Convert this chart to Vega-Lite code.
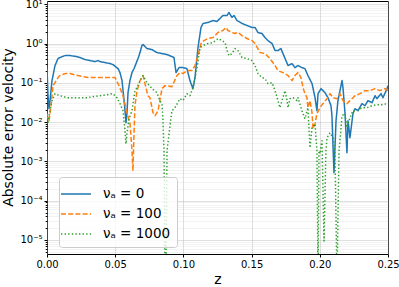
{
  "$schema": "https://vega.github.io/schema/vega-lite/v6.json",
  "width": 341,
  "height": 253,
  "autosize": {"type": "none"},
  "padding": {"left": 47, "top": 1, "right": 11, "bottom": 33},
  "config": {
    "font": "DejaVu Sans",
    "view": {"stroke": "#000000", "strokeWidth": 1},
    "axis": {"labelColor": "#000000", "titleColor": "#000000", "tickColor": "#000000", "domain": false, "labelFont": "DejaVu Sans", "titleFont": "DejaVu Sans", "titleFontWeight": "normal"}
  },
  "data": {"values": [
    {"s":"0","z":0,"v":0.23},{"s":"0","z":0.00073,"v":0.0471},{"s":"0","z":0.00147,"v":0.022},{"s":"0","z":0.0022,"v":0.0352},{"s":"0","z":0.00367,"v":0.114},{"s":"0","z":0.00587,"v":0.275},{"s":"0","z":0.00806,"v":0.414},{"s":"0","z":0.00953,"v":0.44},{"s":"0","z":0.0132,"v":0.494},{"s":"0","z":0.0169,"v":0.494},{"s":"0","z":0.0205,"v":0.474},{"s":"0","z":0.0242,"v":0.44},{"s":"0","z":0.0279,"v":0.391},{"s":"0","z":0.0315,"v":0.368},{"s":"0","z":0.0352,"v":0.347},{"s":"0","z":0.0374,"v":0.368},{"s":"0","z":0.0389,"v":0.347},{"s":"0","z":0.0425,"v":0.328},{"s":"0","z":0.0462,"v":0.309},{"s":"0","z":0.0484,"v":0.291},{"s":"0","z":0.0521,"v":0.23},{"s":"0","z":0.0535,"v":0.182},{"s":"0","z":0.055,"v":0.114},{"s":"0","z":0.0565,"v":0.0352},{"s":"0","z":0.0572,"v":0.0195},{"s":"0","z":0.0579,"v":0.00966},{"s":"0","z":0.0586,"v":0.0164},{"s":"0","z":0.0594,"v":0.0562},{"s":"0","z":0.0608,"v":0.114},{"s":"0","z":0.0623,"v":0.182},{"s":"0","z":0.0638,"v":0.23},{"s":"0","z":0.0667,"v":0.414},{"s":"0","z":0.0682,"v":0.589},{"s":"0","z":0.0696,"v":0.889},{"s":"0","z":0.0704,"v":0.943},{"s":"0","z":0.0733,"v":0.745},{"s":"0","z":0.077,"v":0.703},{"s":"0","z":0.0806,"v":0.589},{"s":"0","z":0.0843,"v":0.556},{"s":"0","z":0.088,"v":0.524},{"s":"0","z":0.0916,"v":0.466},{"s":"0","z":0.0931,"v":0.44},{"s":"0","z":0.0946,"v":0.182},{"s":"0","z":0.0968,"v":0.244},{"s":"0","z":0.0997,"v":0.244},{"s":"0","z":0.1026,"v":0.23},{"s":"0","z":0.1048,"v":0.114},{"s":"0","z":0.107,"v":0.0711},{"s":"0","z":0.1085,"v":0.136},{"s":"0","z":0.1107,"v":0.791},{"s":"0","z":0.1129,"v":2.56},{"s":"0","z":0.1144,"v":3.24},{"s":"0","z":0.118,"v":3.43},{"s":"0","z":0.1217,"v":3.86},{"s":"0","z":0.1246,"v":3.64},{"s":"0","z":0.1268,"v":4.34},{"s":"0","z":0.129,"v":5.18},{"s":"0","z":0.132,"v":5.18},{"s":"0","z":0.1334,"v":6.18},{"s":"0","z":0.1356,"v":4.61},{"s":"0","z":0.1371,"v":5.18},{"s":"0","z":0.1393,"v":3.86},{"s":"0","z":0.143,"v":3.24},{"s":"0","z":0.1466,"v":2.88},{"s":"0","z":0.1503,"v":2.56},{"s":"0","z":0.1525,"v":2.56},{"s":"0","z":0.1547,"v":1.91},{"s":"0","z":0.1576,"v":1.8},{"s":"0","z":0.1598,"v":1.42},{"s":"0","z":0.162,"v":1.19},{"s":"0","z":0.165,"v":1.0},{"s":"0","z":0.1672,"v":0.663},{"s":"0","z":0.1693,"v":0.663},{"s":"0","z":0.1715,"v":0.745},{"s":"0","z":0.173,"v":0.556},{"s":"0","z":0.1752,"v":0.368},{"s":"0","z":0.1767,"v":0.275},{"s":"0","z":0.1796,"v":0.309},{"s":"0","z":0.1818,"v":0.244},{"s":"0","z":0.184,"v":0.275},{"s":"0","z":0.1869,"v":0.244},{"s":"0","z":0.1891,"v":0.23},{"s":"0","z":0.1913,"v":0.153},{"s":"0","z":0.1943,"v":0.0955},{"s":"0","z":0.1965,"v":0.0419},{"s":"0","z":0.1979,"v":0.0195},{"s":"0","z":0.1987,"v":0.053},{"s":"0","z":0.2009,"v":0.0711},{"s":"0","z":0.2038,"v":0.0562},{"s":"0","z":0.206,"v":0.0419},{"s":"0","z":0.2082,"v":0.0262},{"s":"0","z":0.2089,"v":0.0146},{"s":"0","z":0.2104,"v":0.000512},{"s":"0","z":0.2119,"v":0.0109},{"s":"0","z":0.2133,"v":0.0352},{"s":"0","z":0.2163,"v":0.114},{"s":"0","z":0.217,"v":0.0755},{"s":"0","z":0.2185,"v":0.0164},{"s":"0","z":0.2199,"v":0.00166},{"s":"0","z":0.2207,"v":0.0109},{"s":"0","z":0.2221,"v":0.004},{"s":"0","z":0.2243,"v":0.0164},{"s":"0","z":0.2258,"v":0.022},{"s":"0","z":0.228,"v":0.0195},{"s":"0","z":0.2309,"v":0.0295},{"s":"0","z":0.2331,"v":0.0262},{"s":"0","z":0.2353,"v":0.0352},{"s":"0","z":0.2383,"v":0.0313},{"s":"0","z":0.2405,"v":0.0471},{"s":"0","z":0.2419,"v":0.0395},{"s":"0","z":0.2449,"v":0.053},{"s":"0","z":0.2463,"v":0.0419},{"s":"0","z":0.2493,"v":0.0711},{"s":"0","z":0.25,"v":0.0849},
    {"s":"100","z":0,"v":0.0164},{"s":"100","z":0.00073,"v":0.0122},{"s":"100","z":0.00147,"v":0.0109},{"s":"100","z":0.00293,"v":0.0262},{"s":"100","z":0.0044,"v":0.0849},{"s":"100","z":0.00587,"v":0.101},{"s":"100","z":0.00806,"v":0.136},{"s":"100","z":0.00953,"v":0.153},{"s":"100","z":0.0132,"v":0.172},{"s":"100","z":0.0169,"v":0.172},{"s":"100","z":0.0227,"v":0.153},{"s":"100","z":0.0301,"v":0.136},{"s":"100","z":0.0374,"v":0.136},{"s":"100","z":0.0447,"v":0.136},{"s":"100","z":0.0499,"v":0.136},{"s":"100","z":0.0528,"v":0.0849},{"s":"100","z":0.0557,"v":0.0471},{"s":"100","z":0.0586,"v":0.0174},{"s":"100","z":0.0608,"v":0.00966},{"s":"100","z":0.0623,"v":0.00188},{"s":"100","z":0.063,"v":0.000576},{"s":"100","z":0.0638,"v":0.00506},{"s":"100","z":0.0645,"v":0.0262},{"s":"100","z":0.066,"v":0.0632},{"s":"100","z":0.0682,"v":0.114},{"s":"100","z":0.0704,"v":0.153},{"s":"100","z":0.074,"v":0.0471},{"s":"100","z":0.0755,"v":0.0419},{"s":"100","z":0.0777,"v":0.0174},{"s":"100","z":0.0792,"v":0.0146},{"s":"100","z":0.0814,"v":0.0195},{"s":"100","z":0.0843,"v":0.0711},{"s":"100","z":0.0865,"v":0.0849},{"s":"100","z":0.0916,"v":0.08},{"s":"100","z":0.0953,"v":0.153},{"s":"100","z":0.0975,"v":0.182},{"s":"100","z":0.0997,"v":0.172},{"s":"100","z":0.1026,"v":0.205},{"s":"100","z":0.1063,"v":0.205},{"s":"100","z":0.1085,"v":0.275},{"s":"100","z":0.1107,"v":0.494},{"s":"100","z":0.1129,"v":1.0},{"s":"100","z":0.1151,"v":1.19},{"s":"100","z":0.118,"v":1.34},{"s":"100","z":0.1217,"v":1.42},{"s":"100","z":0.1254,"v":1.91},{"s":"100","z":0.129,"v":2.15},{"s":"100","z":0.1312,"v":2.56},{"s":"100","z":0.1327,"v":2.15},{"s":"100","z":0.1356,"v":1.91},{"s":"100","z":0.1378,"v":1.8},{"s":"100","z":0.14,"v":1.91},{"s":"100","z":0.143,"v":1.6},{"s":"100","z":0.1466,"v":1.34},{"s":"100","z":0.1503,"v":1.19},{"s":"100","z":0.1525,"v":1.0},{"s":"100","z":0.1562,"v":0.589},{"s":"100","z":0.1598,"v":0.556},{"s":"100","z":0.1635,"v":0.414},{"s":"100","z":0.1672,"v":0.275},{"s":"100","z":0.1693,"v":0.205},{"s":"100","z":0.173,"v":0.182},{"s":"100","z":0.1767,"v":0.153},{"s":"100","z":0.1796,"v":0.114},{"s":"100","z":0.1818,"v":0.153},{"s":"100","z":0.184,"v":0.182},{"s":"100","z":0.1862,"v":0.136},{"s":"100","z":0.1877,"v":0.0755},{"s":"100","z":0.1891,"v":0.053},{"s":"100","z":0.1906,"v":0.0419},{"s":"100","z":0.1913,"v":0.0233},{"s":"100","z":0.1928,"v":0.0352},{"s":"100","z":0.1943,"v":0.0174},{"s":"100","z":0.195,"v":0.00679},{"s":"100","z":0.1965,"v":0.0091},{"s":"100","z":0.1979,"v":0.0164},{"s":"100","z":0.2001,"v":0.0233},{"s":"100","z":0.2023,"v":0.0295},{"s":"100","z":0.2053,"v":0.0395},{"s":"100","z":0.2075,"v":0.053},{"s":"100","z":0.2097,"v":0.0419},{"s":"100","z":0.2126,"v":0.0395},{"s":"100","z":0.2148,"v":0.053},{"s":"100","z":0.217,"v":0.0352},{"s":"100","z":0.2199,"v":0.0295},{"s":"100","z":0.2221,"v":0.0352},{"s":"100","z":0.2258,"v":0.0471},{"s":"100","z":0.2295,"v":0.053},{"s":"100","z":0.2331,"v":0.0632},{"s":"100","z":0.2368,"v":0.0632},{"s":"100","z":0.2405,"v":0.0711},{"s":"100","z":0.2441,"v":0.0632},{"s":"100","z":0.2478,"v":0.0711},{"s":"100","z":0.25,"v":0.0632},
    {"s":"1000","z":0,"v":0.0146},{"s":"1000","z":0.00073,"v":0.00966},{"s":"1000","z":0.0022,"v":0.0195},{"s":"1000","z":0.00367,"v":0.0352},{"s":"1000","z":0.00587,"v":0.053},{"s":"1000","z":0.00953,"v":0.0471},{"s":"1000","z":0.0147,"v":0.0419},{"s":"1000","z":0.022,"v":0.0419},{"s":"1000","z":0.0293,"v":0.0419},{"s":"1000","z":0.0389,"v":0.0471},{"s":"1000","z":0.044,"v":0.05},{"s":"1000","z":0.0484,"v":0.053},{"s":"1000","z":0.0513,"v":0.0419},{"s":"1000","z":0.0535,"v":0.0295},{"s":"1000","z":0.0557,"v":0.0195},{"s":"1000","z":0.0572,"v":0.00604},{"s":"1000","z":0.0579,"v":0.00281},{"s":"1000","z":0.0586,"v":0.00506},{"s":"1000","z":0.0601,"v":0.0122},{"s":"1000","z":0.0623,"v":0.0195},{"s":"1000","z":0.0645,"v":0.0632},{"s":"1000","z":0.066,"v":0.0755},{"s":"1000","z":0.0682,"v":0.114},{"s":"1000","z":0.0704,"v":0.153},{"s":"1000","z":0.0733,"v":0.101},{"s":"1000","z":0.077,"v":0.0711},{"s":"1000","z":0.0806,"v":0.0562},{"s":"1000","z":0.0828,"v":0.0352},{"s":"1000","z":0.0843,"v":0.0295},{"s":"1000","z":0.085,"v":0.0109},{"s":"1000","z":0.0858,"v":0.00186},{"s":"1000","z":0.0865,"v":0.000001},{"s":"1000","z":0.0872,"v":0.000001},{"s":"1000","z":0.088,"v":0.00186},{"s":"1000","z":0.0902,"v":0.0081},{"s":"1000","z":0.0916,"v":0.0195},{"s":"1000","z":0.0938,"v":0.0233},{"s":"1000","z":0.0975,"v":0.0395},{"s":"1000","z":0.0997,"v":0.0352},{"s":"1000","z":0.1026,"v":0.053},{"s":"1000","z":0.1048,"v":0.0471},{"s":"1000","z":0.107,"v":0.0755},{"s":"1000","z":0.11,"v":0.244},{"s":"1000","z":0.1122,"v":0.791},{"s":"1000","z":0.1144,"v":0.889},{"s":"1000","z":0.118,"v":1.0},{"s":"1000","z":0.1217,"v":1.06},{"s":"1000","z":0.1254,"v":1.34},{"s":"1000","z":0.1283,"v":1.19},{"s":"1000","z":0.1305,"v":1.06},{"s":"1000","z":0.132,"v":0.663},{"s":"1000","z":0.1334,"v":0.494},{"s":"1000","z":0.1356,"v":0.556},{"s":"1000","z":0.1378,"v":0.745},{"s":"1000","z":0.14,"v":0.663},{"s":"1000","z":0.143,"v":0.44},{"s":"1000","z":0.1466,"v":0.414},{"s":"1000","z":0.1503,"v":0.368},{"s":"1000","z":0.1525,"v":0.275},{"s":"1000","z":0.1547,"v":0.172},{"s":"1000","z":0.1576,"v":0.136},{"s":"1000","z":0.1598,"v":0.128},{"s":"1000","z":0.162,"v":0.0955},{"s":"1000","z":0.165,"v":0.101},{"s":"1000","z":0.1672,"v":0.0632},{"s":"1000","z":0.1693,"v":0.0352},{"s":"1000","z":0.1708,"v":0.0233},{"s":"1000","z":0.1723,"v":0.0352},{"s":"1000","z":0.1745,"v":0.0632},{"s":"1000","z":0.176,"v":0.0352},{"s":"1000","z":0.1767,"v":0.0233},{"s":"1000","z":0.1781,"v":0.0395},{"s":"1000","z":0.1804,"v":0.0419},{"s":"1000","z":0.1833,"v":0.0352},{"s":"1000","z":0.184,"v":0.0419},{"s":"1000","z":0.1869,"v":0.0195},{"s":"1000","z":0.1891,"v":0.0122},{"s":"1000","z":0.1913,"v":0.0233},{"s":"1000","z":0.1928,"v":0.00222},{"s":"1000","z":0.1943,"v":0.0072},{"s":"1000","z":0.1965,"v":0.0091},{"s":"1000","z":0.1979,"v":0.00186},{"s":"1000","z":0.1987,"v":0.000001},{"s":"1000","z":0.1994,"v":0.00186},{"s":"1000","z":0.2001,"v":0.00156},{"s":"1000","z":0.2016,"v":0.00336},{"s":"1000","z":0.2031,"v":0.00000942},{"s":"1000","z":0.2045,"v":0.00186},{"s":"1000","z":0.2053,"v":0.004},{"s":"1000","z":0.2075,"v":0.00537},{"s":"1000","z":0.2097,"v":0.004},{"s":"1000","z":0.2111,"v":0.00186},{"s":"1000","z":0.2126,"v":0.000001},{"s":"1000","z":0.2141,"v":0.00186},{"s":"1000","z":0.2148,"v":0.00336},{"s":"1000","z":0.2163,"v":0.0146},{"s":"1000","z":0.2185,"v":0.0164},{"s":"1000","z":0.2199,"v":0.0072},{"s":"1000","z":0.2221,"v":0.013},{"s":"1000","z":0.2243,"v":0.0195},{"s":"1000","z":0.2273,"v":0.0195},{"s":"1000","z":0.2309,"v":0.0233},{"s":"1000","z":0.2346,"v":0.0233},{"s":"1000","z":0.2383,"v":0.0262},{"s":"1000","z":0.2419,"v":0.0278},{"s":"1000","z":0.2456,"v":0.0278},{"s":"1000","z":0.2493,"v":0.0295},{"s":"1000","z":0.25,"v":0.0295}
  ]},
  "mark": {"type": "line", "clip": true, "strokeWidth": 1.5, "strokeJoin": "round"},
  "encoding": {
    "x": {
      "field": "z", "type": "quantitative",
      "scale": {"domain": [0, 0.25], "nice": false, "zero": false},
      "axis": {
        "title": "z", "values": [0, 0.05, 0.1, 0.15, 0.2, 0.25], "format": ".2f",
        "labelFlush": false, "labelFontSize": 10, "labelPadding": 2, "tickSize": 3,
        "titleFontSize": 14, "titlePadding": 3,
        "grid": true, "gridColor": "#b0b0b0", "gridOpacity": 0.5, "gridWidth": 0.8
      }
    },
    "y": {
      "field": "v", "type": "quantitative",
      "scale": {"type": "log", "domain": [0.0000044, 12.1], "nice": false},
      "axis": {
        "title": "Absolute error velocity",
        "titleFontSize": 14, "titleX": -39, "titleY": 126, "titleAlign": "center", "titleBaseline": "middle", "titleAngle": -90,
        "values": [0.000005,0.000006,0.000007,0.000008,0.000009,0.00001,0.00002,0.00003,0.00004,0.00005,0.00006,0.00007,0.00008,0.00009,0.0001,0.0002,0.0003,0.0004,0.0005,0.0006,0.0007,0.0008,0.0009,0.001,0.002,0.003,0.004,0.005,0.006,0.007,0.008,0.009,0.01,0.02,0.03,0.04,0.05,0.06,0.07,0.08,0.09,0.1,0.2,0.3,0.4,0.5,0.6,0.7,0.8,0.9,1,2,3,4,5,6,7,8,9,10],
        "labelExpr": "abs(log(datum.value)/LN10 - round(log(datum.value)/LN10)) < 0.000001 ? ['10⁻⁵','10⁻⁴','10⁻³','10⁻²','10⁻¹','10⁰','10¹'][round(log(datum.value)/LN10)+5] : ''",
        "labelOverlap": false, "labelFontSize": 10, "labelPadding": 2,
        "tickSize": {"condition": {"test": "abs(log(datum.value)/LN10 - round(log(datum.value)/LN10)) < 0.000001", "value": 3}, "value": 1.8},
        "grid": true, "gridColor": "#b0b0b0",
        "gridOpacity": {"condition": {"test": "abs(log(datum.value)/LN10 - round(log(datum.value)/LN10)) < 0.000001", "value": 0.5}, "value": 0.3},
        "gridWidth": {"condition": {"test": "abs(log(datum.value)/LN10 - round(log(datum.value)/LN10)) < 0.000001", "value": 0.8}, "value": 0.5}
      }
    },
    "color": {
      "field": "s", "type": "nominal",
      "scale": {"domain": ["0", "100", "1000"], "range": ["#1f77b4", "#ff7f0e", "#2ca02c"]},
      "legend": {
        "orient": "none", "legendX": 12, "legendY": 176, "title": null,
        "labelExpr": "'νₐ = ' + datum.label",
        "labelFontSize": 13.5, "labelColor": "#000000", "labelOffset": 16,
        "symbolType": "M-1.5,0H1.5", "symbolSize": 400, "symbolStrokeWidth": 1.5,
        "rowPadding": 2, "padding": 6,
        "fillColor": "rgba(255,255,255,0.8)", "strokeColor": "#cccccc", "cornerRadius": 3
      }
    },
    "strokeDash": {
      "field": "s", "type": "nominal",
      "scale": {"domain": ["0", "100", "1000"], "range": [[1, 0], [5, 2.2], [1.4, 2.2]]},
      "legend": null
    }
  }
}
